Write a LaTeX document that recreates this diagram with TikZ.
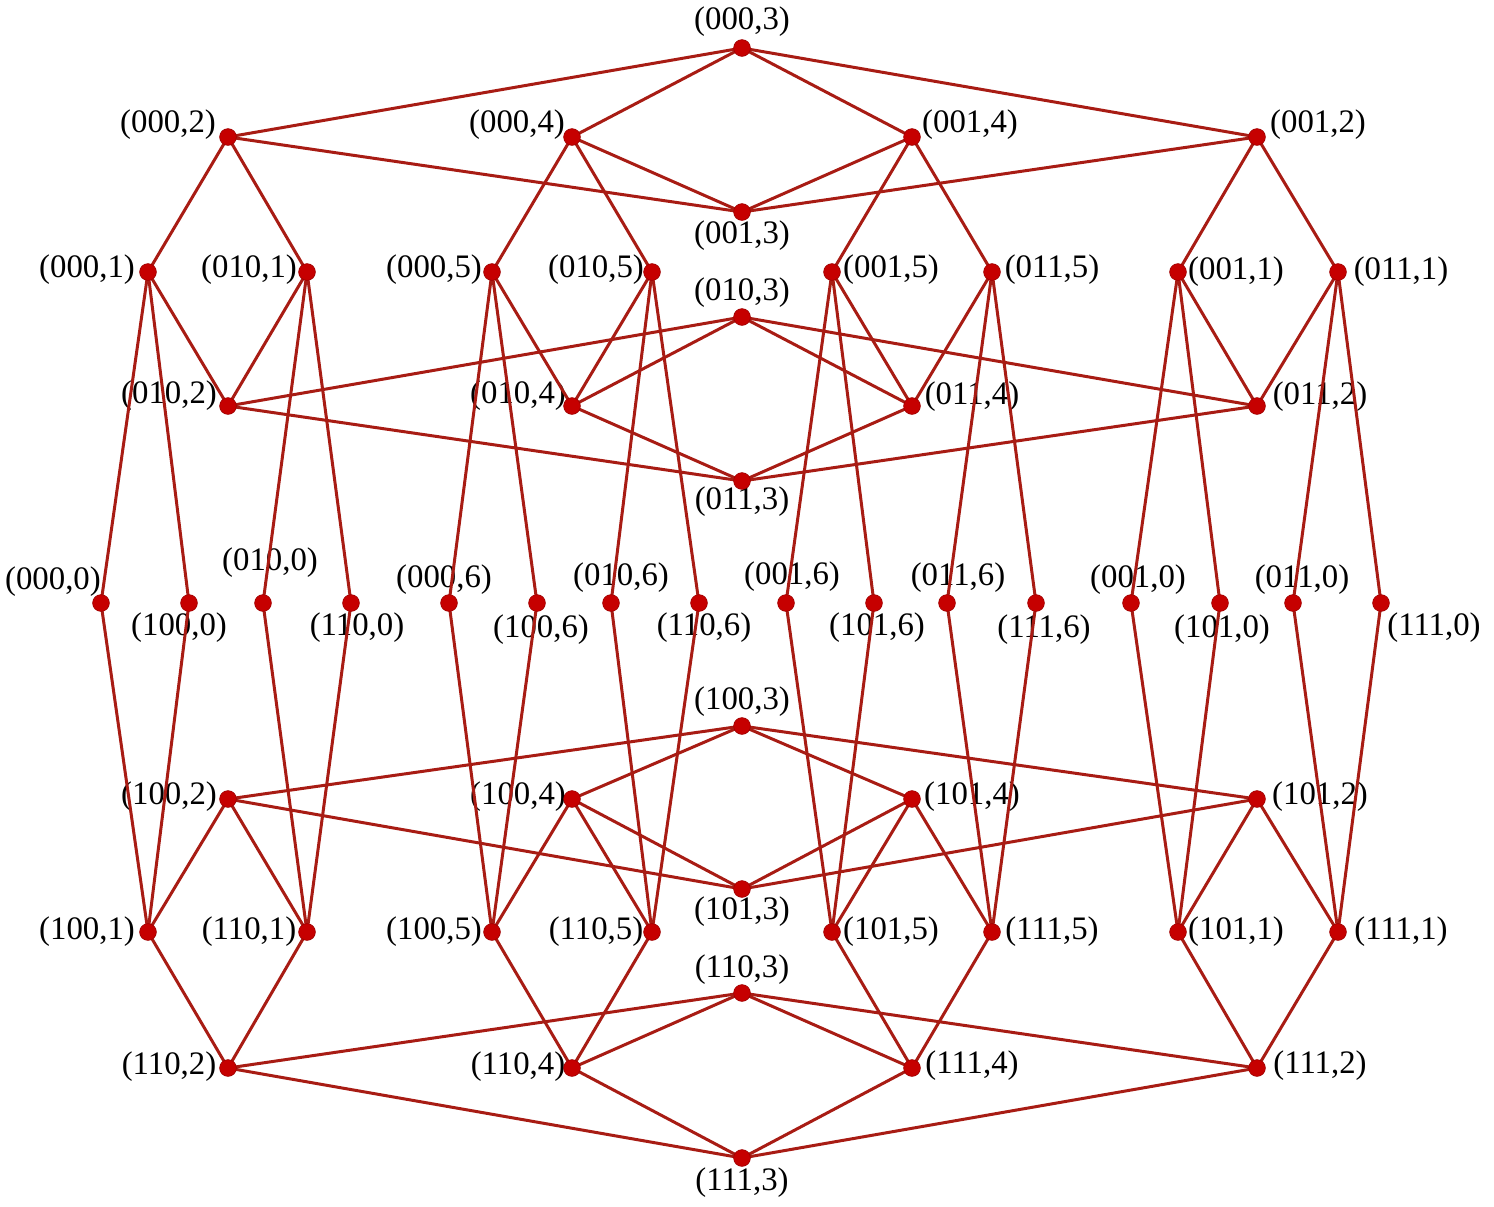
\documentclass[tikz,border=0pt]{standalone}
\usepackage{fontspec}
\setmainfont{Liberation Serif}
\definecolor{edgec}{RGB}{168,28,20}
\definecolor{dotc}{RGB}{198,0,0}
\newcommand\Vtx[6]{\coordinate (n#1-#2) at (#3,#4); \node[lab] (l#1-#2) at (#5,#6) {(#1,#2)};}
\begin{document}
\begin{tikzpicture}[x=0.5pt,y=-0.5pt,
  lab/.style={font=\fontsize{16.4}{19}\selectfont, inner sep=0pt, text=black},
  edge/.style={draw=edgec, line width=1.5pt},
  dot/.style={circle, fill=dotc, draw=dotc!80!black, line width=0.3pt, minimum size=8.4pt, inner sep=0pt}]
\useasboundingbox (0,0) rectangle (1494,1206);
% level 3 and 2,4 (top)
\Vtx{000}{3}{742}{48}{742}{22}
\Vtx{000}{2}{228}{137}{168}{125}
\Vtx{000}{4}{572}{137}{517}{125}
\Vtx{001}{4}{912}{137}{970}{125}
\Vtx{001}{2}{1257}{137}{1318}{125}
\Vtx{001}{3}{742}{212}{742}{236}
\Vtx{000}{1}{148}{272}{87}{270}
\Vtx{010}{1}{307}{272}{249}{270}
\Vtx{000}{5}{492}{272}{434}{270}
\Vtx{010}{5}{652}{272}{596}{270}
\Vtx{001}{5}{832}{272}{891}{270}
\Vtx{011}{5}{992}{272}{1052}{270}
\Vtx{001}{1}{1178}{272}{1236}{272}
\Vtx{011}{1}{1338}{272}{1401}{272}
\Vtx{010}{3}{742}{317}{742}{293}
\Vtx{010}{2}{228}{406}{169}{396}
\Vtx{010}{4}{572}{406}{518}{396}
\Vtx{011}{4}{912}{406}{972}{397}
\Vtx{011}{2}{1257}{406}{1320}{397}
\Vtx{011}{3}{742}{481}{742}{502}
% middle row
\Vtx{000}{0}{101}{603}{53}{582}
\Vtx{100}{0}{189}{603}{179}{628}
\Vtx{010}{0}{263}{603}{270}{563}
\Vtx{110}{0}{351}{603}{357}{628}
\Vtx{000}{6}{449}{603}{444}{580}
\Vtx{100}{6}{537}{603}{541}{630}
\Vtx{010}{6}{611}{603}{621}{578}
\Vtx{110}{6}{699}{603}{704}{628}
\Vtx{001}{6}{786}{603}{792}{577}
\Vtx{101}{6}{874}{603}{877}{628}
\Vtx{011}{6}{947}{603}{958}{578}
\Vtx{111}{6}{1036}{603}{1044}{630}
\Vtx{001}{0}{1131}{603}{1138}{580}
\Vtx{101}{0}{1220}{603}{1222}{630}
\Vtx{011}{0}{1293}{603}{1302}{580}
\Vtx{111}{0}{1381}{603}{1434}{628}
% bottom
\Vtx{100}{3}{742}{726}{742}{702}
\Vtx{100}{2}{228}{799}{169}{797}
\Vtx{100}{4}{572}{799}{518}{797}
\Vtx{101}{4}{912}{799}{972}{797}
\Vtx{101}{2}{1257}{799}{1320}{797}
\Vtx{101}{3}{742}{889}{742}{912}
\Vtx{100}{1}{148}{932}{87}{932}
\Vtx{110}{1}{307}{932}{249}{932}
\Vtx{100}{5}{492}{932}{434}{932}
\Vtx{110}{5}{652}{932}{596}{932}
\Vtx{101}{5}{832}{932}{891}{932}
\Vtx{111}{5}{992}{932}{1052}{932}
\Vtx{101}{1}{1178}{932}{1236}{932}
\Vtx{111}{1}{1338}{932}{1401}{932}
\Vtx{110}{3}{742}{993}{742}{970}
\Vtx{110}{2}{228}{1068}{169}{1067}
\Vtx{110}{4}{572}{1068}{518}{1067}
\Vtx{111}{4}{912}{1068}{972}{1066}
\Vtx{111}{2}{1257}{1068}{1320}{1066}
\Vtx{111}{3}{742}{1158}{742}{1183}
% edges
\foreach \p in {0,1}{\foreach \q in {0,1}{\foreach \a in {0,1}{\foreach \b in {0,1}{
  \draw[edge] (n\a\p\q-0) -- (n\b\p\q-1);
  \draw[edge] (n\a\p\q-6) -- (n\b\p\q-5);
  \draw[edge] (n\p\a\q-1) -- (n\p\b\q-2);
  \draw[edge] (n\p\a\q-4) -- (n\p\b\q-5);
  \draw[edge] (n\p\q\a-2) -- (n\p\q\b-3);
  \draw[edge] (n\p\q\a-4) -- (n\p\q\b-3);
}}}}
% dots
\foreach \v in {000,001,010,011,100,101,110,111}{\foreach \k in {0,...,6}{
  \node[dot] (d\v-\k) at (n\v-\k) {};
}}
\end{tikzpicture}
\end{document}
